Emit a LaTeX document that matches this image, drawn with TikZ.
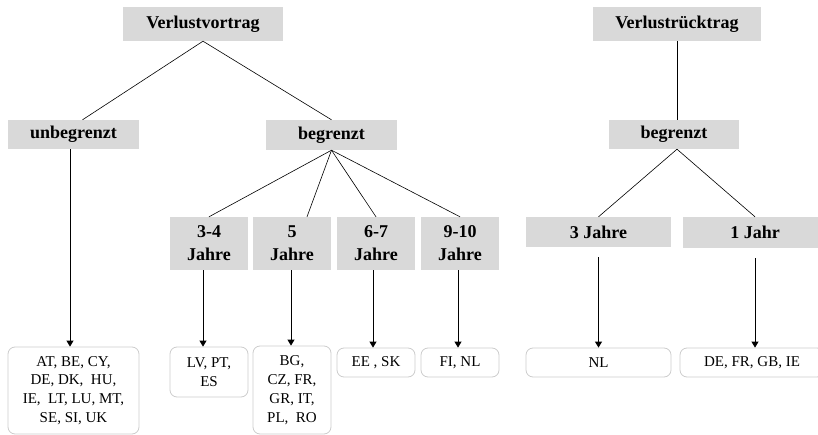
\documentclass[tikz,border=0pt]{standalone}
\usepackage{fontspec}
\setmainfont{Liberation Serif}
\usetikzlibrary{arrows.meta}
\definecolor{boxgray}{HTML}{D9D9D9}
\definecolor{edgegray}{HTML}{CCCCCC}
\begin{document}
\begin{tikzpicture}[x=1pt,y=-1pt,
  gbox/.style={fill=boxgray,inner sep=0pt,align=center,font=\fontsize{18}{23}\selectfont\bfseries},
  tbox/.style={draw=edgegray,line width=0.8pt,rounded corners=7pt,inner sep=0pt,align=center,font=\fontsize{15}{18.8}\selectfont},
  ln/.style={line width=0.6pt},
  arr/.style={line width=0.9pt,-{Triangle[width=7pt,length=6pt]}}]
\useasboundingbox (0,0) rectangle (818,435);
% grey boxes
\node[gbox,minimum width=160pt,minimum height=34pt] (vv) at (203,24) {Verlustvortrag};
\node[gbox,minimum width=131pt,minimum height=29pt] (unb) at (73.5,134.5) {unbegrenzt};
\node[gbox,minimum width=131pt,minimum height=30pt] (beg) at (331.5,135) {begrenzt};
\node[gbox,minimum width=168pt,minimum height=34pt] (vr) at (677,24) {Verlustrücktrag};
\node[gbox,minimum width=130pt,minimum height=29pt] (beg2) at (674,134.5) {begrenzt};
\node[gbox,minimum width=78pt,minimum height=53pt] (j34) at (209,243.5) {3-4\\Jahre};
\node[gbox,minimum width=78pt,minimum height=53pt] (j5) at (292,243.5) {5\\Jahre};
\node[gbox,minimum width=78pt,minimum height=53pt] (j67) at (376,243.5) {6-7\\Jahre};
\node[gbox,minimum width=78pt,minimum height=53pt] (j910) at (460,243.5) {9-10\\Jahre};
\node[gbox,minimum width=145pt,minimum height=30pt] (j3) at (598.5,232) {3 Jahre};
\node[gbox,minimum width=144pt,minimum height=31pt] (j1) at (755,232.5) {1 Jahr};
% country boxes
\node[tbox,minimum width=131pt,minimum height=87pt] (tA) at (73.5,390.5) {AT, BE, CY,\\DE, DK,\ \ HU,\\IE,\ \ LT, LU, MT,\\SE, SI, UK};
\node[tbox,minimum width=78pt,minimum height=50pt] (tLV) at (209,372) {LV, PT,\\ES};
\node[tbox,minimum width=78pt,minimum height=88pt] (tBG) at (292,390) {BG,\\CZ, FR,\\GR, IT,\\PL,\ \ RO};
\node[tbox,minimum width=78pt,minimum height=29pt] (tEE) at (376,362.5) {EE , SK};
\node[tbox,minimum width=78pt,minimum height=29pt] (tFI) at (460,362.5) {FI, NL};
\node[tbox,minimum width=145pt,minimum height=29pt] (tNL) at (598.5,362.5) {NL};
\node[tbox,minimum width=144pt,minimum height=29pt] (tDE) at (752,362.5) {DE, FR, GB, IE};
% tree lines
\draw[ln] (vv.south) -- ([xshift=9pt]unb.north);
\draw[ln] (vv.south) -- (beg.north);
\draw[ln] (beg.south) -- (j34.north);
\draw[ln] (beg.south) -- ([xshift=15pt]j5.north);
\draw[ln] (beg.south) -- (j67.north);
\draw[ln] (beg.south) -- (j910.north);
\draw[ln] (vr.south) -- ([xshift=3pt]beg2.north);
\draw[ln] ([xshift=3pt]beg2.south) -- (j3.north);
\draw[ln] ([xshift=3pt]beg2.south) -- (j1.north);
% arrows
\draw[arr] ([xshift=-3.5pt]unb.south) -- ([xshift=-3.5pt]tA.north);
\draw[arr] ([xshift=-6pt]j34.south) -- ([xshift=-6pt]tLV.north);
\draw[arr] ([xshift=-1pt]j5.south) -- ([xshift=-1pt]tBG.north);
\draw[arr] ([xshift=-3pt]j67.south) -- ([xshift=-3pt]tEE.north);
\draw[arr] ([xshift=-2pt]j910.south) -- ([xshift=-2pt]tFI.north);
\draw[arr,shorten <=10pt] (j3.south) -- (tNL.north);
\draw[arr,shorten <=10pt] (j1.south) -- ([xshift=3pt]tDE.north);
\end{tikzpicture}
\end{document}
